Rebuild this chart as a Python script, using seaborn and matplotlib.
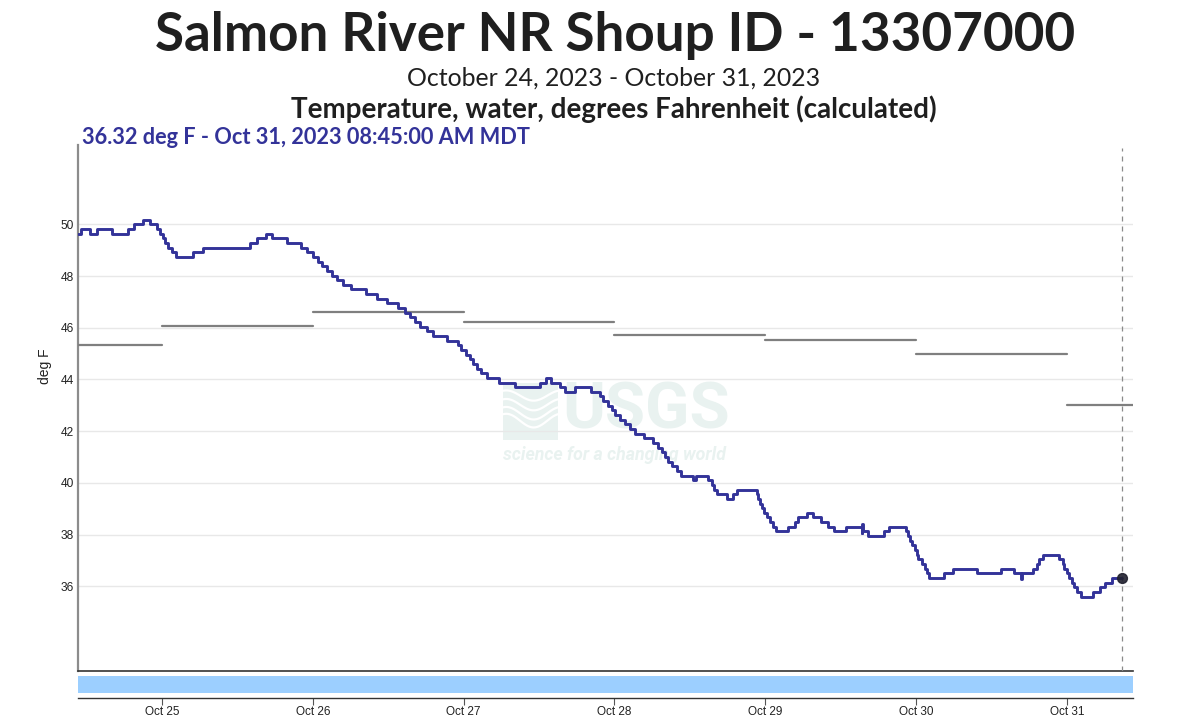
import numpy as np
import pandas as pd
import seaborn as sns
import matplotlib.pyplot as plt
import matplotlib.dates as mdates
from matplotlib.patches import Rectangle

W, H = 1189, 727

# hours after Oct 25 00:00 MDT
hours = [
    -13.37, -12.94, -11.72, -11.46, -10.66, -10.39, -8.27, -8.01, -5.78, -5.46, -4.66, -4.45,
    -3.13, -2.97, -2.17, -1.91, -1.22, -0.75, -0.32, 0.1, 0.48, 1.0, 1.6, 2.23,
    4.83, 5.0, 6.32, 6.58, 13.74, 14.0, 14.8, 15.07, 16.24, 16.5, 17.3, 17.56,
    19.58, 19.84, 21.75, 22.07, 22.76, 23.03, 23.82, 24.09, 24.88, 25.41, 26.2, 27.0,
    27.8, 28.76, 28.86, 29.82, 30.03, 32.15, 32.47, 33.9, 34.17, 35.49, 35.76, 37.35,
    37.62, 38.41, 38.68, 39.47, 40.27, 41.06, 42.13, 43.19, 45.04, 45.31, 46.37, 47.17,
    47.59, 48.38, 49.02, 49.45, 50.08, 50.72, 51.67, 53.53, 53.69, 56.02, 56.18, 60.0,
    60.16, 60.8, 61.12, 61.65, 61.86, 63.19, 63.35, 63.9, 64.14, 65.57, 65.73, 68.01,
    68.23, 69.45, 69.71, 70.24, 71.04, 71.57, 72.1, 72.9, 73.69, 74.49, 75.28, 76.5,
    76.71, 77.93, 78.2, 79.0, 79.53, 80.06, 80.59, 81.22, 81.91, 82.55, 84.3, 84.57,
    85.0, 86.58, 86.95, 87.48, 87.85, 88.28, 89.6, 89.87, 90.51, 90.83, 91.46, 94.22,
    94.64, 94.91, 95.18, 95.44, 95.81, 96.24, 96.77, 97.19, 97.67, 99.42, 99.69, 100.48,
    100.75, 101.28, 102.49, 102.7, 103.5, 103.66, 104.72, 104.93, 105.78, 105.94, 106.73, 106.94,
    108.69, 108.85, 111.08, 111.35, 111.45, 111.61, 112.25, 112.41, 114.69, 114.9, 115.59, 115.75,
    117.98, 118.4, 118.77, 119.04, 119.3, 119.84, 120.1, 120.37, 120.9, 121.43, 121.69, 122.12,
    124.24, 124.45, 125.67, 125.94, 129.38, 129.65, 133.2, 133.47, 135.38, 135.64, 136.44, 136.71,
    136.92, 138.4, 138.67, 139.2, 139.62, 140.26, 142.38, 142.81, 143.34, 143.6, 143.97, 144.4,
    144.77, 145.14, 145.67, 146.2, 147.95, 148.22, 149.01, 149.28, 149.92, 150.07, 150.98, 151.24,
    152.75,
]
temp_f = [
    49.64, 49.82, 49.82, 49.64, 49.64, 49.82, 49.82, 49.64, 49.64, 49.82, 49.82, 50.0,
    50.0, 50.18, 50.18, 50.0, 50.0, 49.82, 49.64, 49.46, 49.28, 49.1, 48.92, 48.74,
    48.74, 48.92, 48.92, 49.1, 49.1, 49.28, 49.28, 49.46, 49.46, 49.64, 49.64, 49.46,
    49.46, 49.28, 49.28, 49.1, 49.1, 48.92, 48.92, 48.74, 48.56, 48.38, 48.2, 48.02,
    47.84, 47.84, 47.66, 47.66, 47.48, 47.48, 47.3, 47.3, 47.12, 47.12, 46.94, 46.94,
    46.76, 46.76, 46.58, 46.4, 46.22, 46.04, 45.86, 45.68, 45.68, 45.5, 45.5, 45.32,
    45.14, 44.96, 44.78, 44.6, 44.42, 44.24, 44.06, 44.06, 43.88, 43.88, 43.7, 43.7,
    43.88, 43.88, 44.06, 44.06, 43.88, 43.88, 43.7, 43.7, 43.52, 43.52, 43.7, 43.7,
    43.52, 43.52, 43.34, 43.16, 42.98, 42.8, 42.62, 42.44, 42.26, 42.08, 41.9, 41.9,
    41.72, 41.72, 41.54, 41.36, 41.18, 41.0, 40.82, 40.64, 40.46, 40.28, 40.28, 40.1,
    40.28, 40.28, 40.1, 39.92, 39.74, 39.56, 39.56, 39.38, 39.38, 39.56, 39.74, 39.74,
    39.56, 39.38, 39.2, 39.02, 38.84, 38.66, 38.48, 38.3, 38.12, 38.12, 38.3, 38.3,
    38.48, 38.66, 38.66, 38.84, 38.84, 38.66, 38.66, 38.48, 38.48, 38.3, 38.3, 38.12,
    38.12, 38.3, 38.3, 38.06, 38.42, 38.12, 38.12, 37.94, 37.94, 38.12, 38.12, 38.3,
    38.3, 38.12, 37.94, 37.76, 37.58, 37.4, 37.22, 37.04, 36.86, 36.68, 36.5, 36.32,
    36.32, 36.5, 36.5, 36.68, 36.68, 36.5, 36.5, 36.68, 36.68, 36.5, 36.5, 36.28,
    36.5, 36.5, 36.68, 36.86, 37.04, 37.22, 37.22, 37.04, 36.86, 36.68, 36.5, 36.32,
    36.14, 35.96, 35.78, 35.6, 35.6, 35.78, 35.78, 35.96, 35.96, 36.14, 36.14, 36.32,
    36.32,
]

# flat gray daily lines, start and end of each day
stat_start = [-13.37, 0, 24, 48, 72, 96, 120, 144]
stat_end = [0, 24, 48, 72, 96, 120, 144, 154.53]
stat_value = [45.34, 46.06, 46.6, 46.24, 45.7, 45.52, 44.97, 43.02]

y_ticks = [36, 38, 40, 42, 44, 46, 48, 50]
x_tick_days = ['2023-10-25', '2023-10-26', '2023-10-27', '2023-10-28', '2023-10-29', '2023-10-30', '2023-10-31']

t0 = pd.Timestamp('2023-10-25')
df = pd.DataFrame({'time': t0 + pd.to_timedelta(hours, unit='h'), 'temp': temp_f})
stats = pd.DataFrame({
    'time': list(t0 + pd.to_timedelta(stat_start, unit='h')) + list(t0 + pd.to_timedelta(stat_end, unit='h')),
    'temp': stat_value * 2,
    'day': list(range(len(stat_value))) * 2,
})
x_min = t0 + pd.to_timedelta(-13.37, unit='h')
x_max = t0 + pd.to_timedelta(154.53, unit='h')
last_time = df['time'].iloc[-1]

sns.set_theme(style='white')
plt.rcParams['font.family'] = ['Lato', 'DejaVu Sans']
TICK_FONT = ['Liberation Sans', 'DejaVu Sans']
NAVY = '#333399'
INK = '#1f1f1f'


def axes_box(left, top, right, bottom):
    return [left / W, 1 - bottom / H, (right - left) / W, (bottom - top) / H]


def pixel_text(x, y, s, **kw):
    fig.text(x / W, 1 - y / H, s, va='center', **kw)


fig = plt.figure(figsize=(W / 100, H / 100), dpi=100)
ax = fig.add_axes(axes_box(78, 145, 1133, 671))
band = fig.add_axes(axes_box(78, 676, 1133, 698))

# =========================
# watermark, sits under the data
# =========================
WATER = '#e9f2f0'
logo = fig.add_axes(axes_box(503, 383, 558, 440), zorder=-1)
logo.set_xlim(0, 1)
logo.set_ylim(0, 1)
logo.axis('off')
logo.add_patch(Rectangle((0, 0), 1, 1, color=WATER))
wave_x = np.linspace(0, 1, 40)
for level, amp in zip([0.78, 0.62, 0.47, 0.34], [0.09, 0.1, 0.11, 0.12]):
    logo.plot(wave_x, level + amp * np.sin(wave_x * 6.3 + 1.2), color='white', lw=1.6)
ax.patch.set_alpha(0)
ax.set_zorder(2)
fig.text(646 / W, 1 - 411 / H, 'USGS', color=WATER, fontsize=47, fontweight='bold',
         family=['Roboto', 'DejaVu Sans'], ha='center', va='center', zorder=-1)
fig.text(614 / W, 1 - 455 / H, 'science for a changing world', color=WATER, fontsize=12.8,
         fontweight='bold', fontstyle='italic', family=['Roboto', 'DejaVu Sans'], ha='center', va='center', zorder=-1)

# =========================
# main series
# =========================
ax.set_yticks(y_ticks)
ax.grid(True, axis='y', color='#e8e8e8', lw=1)
sns.lineplot(data=stats, x='time', y='temp', units='day', estimator=None, color='#7f7f7f',
             lw=1.6, ax=ax, zorder=3)
sns.lineplot(data=df, x='time', y='temp', estimator=None, sort=False, color=NAVY,
             lw=2.1, drawstyle='steps-post', ax=ax, zorder=4)

ax.axvline(last_time, color='#8a8a8a', lw=0.9, ls=(0, (4, 4)), ymax=0.995, zorder=3)
ax.scatter([last_time], [temp_f[-1]], s=50, color='#20202e', alpha=0.9, zorder=5, clip_on=False)

ax.set_xlim(x_min, x_max)
ax.set_ylim(32.72, 53.07)
ax.set_xlabel('')
ax.set_ylabel('deg F', fontsize=10, family=TICK_FONT, color='#222222')
ax.yaxis.set_label_coords((52 - 78) / (1133 - 78), 0.58)
ax.set_xticks([])
ax.tick_params(axis='y', length=0, pad=3, labelsize=8.6, labelcolor='#222222')
for lab in ax.get_yticklabels():
    lab.set_family(TICK_FONT)
for side in ['top', 'right']:
    ax.spines[side].set_visible(False)
ax.spines['left'].set_color('#8c8c8c')
ax.spines['left'].set_linewidth(1.6)
ax.spines['bottom'].set_color('#333333')
ax.spines['bottom'].set_linewidth(1.2)

# =========================
# overview strip with the date axis
# =========================
band.set_xlim(x_min, x_max)
band.set_ylim(0, 1)
band.axvspan(x_min, x_max, ymin=0.227, ymax=1, color='#9ccfff', lw=0)
band.set_yticks([])
band.set_xticks(pd.to_datetime(x_tick_days))
band.xaxis.set_major_formatter(mdates.DateFormatter('%b %d'))
band.tick_params(axis='x', length=5, width=0.8, color='#555555', pad=0.5, labelsize=8.5, labelcolor='#222222', bottom=True)
for lab in band.get_xticklabels():
    lab.set_family(TICK_FONT)
for side in ['top', 'left', 'right']:
    band.spines[side].set_visible(False)
band.spines['bottom'].set_color('#333333')
band.spines['bottom'].set_linewidth(1.0)
band.patch.set_alpha(0)

# =========================
# titles
# =========================
pixel_text(615, 35, 'Salmon River NR Shoup ID - 13307000', fontsize=38.2, fontweight='bold', color=INK, ha='center')
pixel_text(614, 78, 'October 24, 2023 - October 31, 2023', fontsize=17.9, color=INK, ha='center')
pixel_text(614, 109, 'Temperature, water, degrees Fahrenheit (calculated)', fontsize=20, fontweight='bold', color=INK, ha='center')
pixel_text(82, 137, '36.32 deg F - Oct 31, 2023 08:45:00 AM MDT', fontsize=15.7, fontweight='bold', color=NAVY, ha='left')

fig.savefig('out.png', dpi=100)
plt.close(fig)
